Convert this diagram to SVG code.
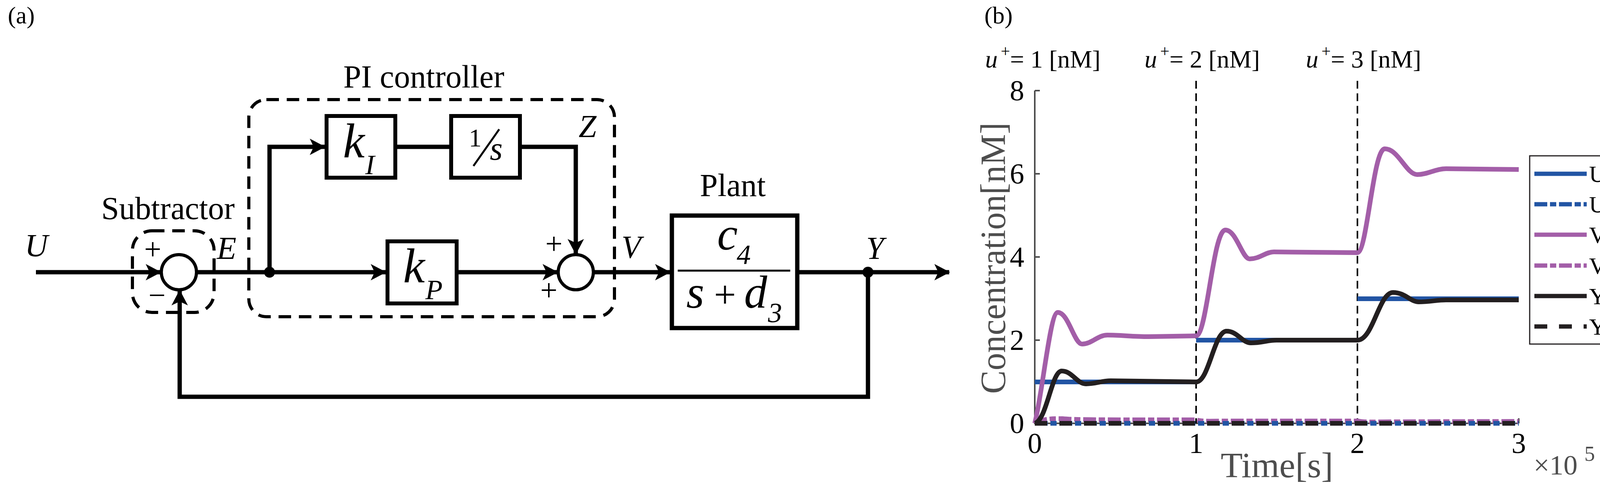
<svg xmlns="http://www.w3.org/2000/svg" width="4201" height="1288" viewBox="0 0 4201 1288">
<style>
text{font-family:"Liberation Serif","Times New Roman",serif;fill:#000}
.it{font-style:italic}
.blk{fill:#fff;stroke:#000;stroke-width:10}
.w{fill:none;stroke:#000;stroke-width:11}
.dash{fill:none;stroke:#000;stroke-width:8;stroke-dasharray:32 20}
.ax{stroke:#4d4d4d;stroke-width:4;fill:none}
.tk{font-size:74px;fill:#4d4d4d}
.cv{fill:none;stroke-width:12;stroke-linejoin:round}
.lab{font-size:82px}
</style>
<defs>
<marker id="ar" markerUnits="userSpaceOnUse" markerWidth="40" markerHeight="44" refX="38" refY="22" orient="auto"><path d="M0,1 L40,22 L0,43 L10,22Z" fill="#000"/></marker>
</defs>
<text x="20" y="60" font-size="62">(a)</text>
<text x="2520" y="60" font-size="62">(b)</text>

<g id="pi-box"><rect class="dash" x="637" y="255" width="936" height="556" rx="45"/><text x="1085" y="224" class="lab" text-anchor="middle">PI controller</text></g>
<g id="sub-box"><rect class="dash" x="339" y="591" width="209" height="209" rx="50"/><text x="430" y="561" class="lab" text-anchor="middle">Subtractor</text></g>

<g id="connectors">
<path class="w" d="M92,697 H411" marker-end="url(#ar)"/>
<path class="w" d="M504,697 H987" marker-end="url(#ar)"/>
<path class="w" d="M690,697 V376 H831" marker-end="url(#ar)"/>
<path class="w" d="M1017,376 H1150"/>
<path class="w" d="M1336,376 H1474 V650" marker-end="url(#ar)"/>
<path class="w" d="M1174,697 H1427" marker-end="url(#ar)"/>
<path class="w" d="M1521,697 H1715" marker-end="url(#ar)"/>
<path class="w" d="M2046,697 H2430" marker-end="url(#ar)"/>
<path class="w" d="M2222,697 V1016 H460 V744" marker-end="url(#ar)"/>
<circle cx="690" cy="697" r="14"/>
<circle cx="2222" cy="697" r="14"/>
</g>

<g id="subtractor"><circle cx="458" cy="697" r="45" fill="#fff" stroke="#000" stroke-width="8"/>
<text x="391" y="664" font-size="78" text-anchor="middle">+</text><text x="402" y="782" font-size="78" text-anchor="middle">−</text></g>
<g id="summer"><circle cx="1474" cy="697" r="45" fill="#fff" stroke="#000" stroke-width="8"/>
<text x="1418" y="650" font-size="78" text-anchor="middle">+</text><text x="1405" y="769" font-size="78" text-anchor="middle">+</text></g>

<g id="kI"><rect class="blk" x="836" y="297" width="176" height="158"/><text x="878" y="403" font-size="125" class="it">k</text><text x="935" y="446" font-size="72" class="it">I</text></g>
<g id="integ"><rect class="blk" x="1155" y="297" width="176" height="158"/><text x="1200" y="375" font-size="66">1</text><line x1="1212" y1="425" x2="1278" y2="331" stroke="#000" stroke-width="5"/><text x="1254" y="409" font-size="84" class="it">s</text></g>
<g id="kP"><rect class="blk" x="992" y="618" width="177" height="159"/><text x="1032" y="723" font-size="125" class="it">k</text><text x="1089" y="766" font-size="72" class="it">P</text></g>
<g id="plant"><rect x="1720" y="552" width="321" height="288" fill="#fff" stroke="#000" stroke-width="11"/><text x="1876" y="502" class="lab" text-anchor="middle">Plant</text>
<text x="1836" y="639" font-size="118" class="it">c</text><text x="1886" y="676" font-size="72" class="it">4</text>
<line x1="1735" y1="693" x2="2023" y2="693" stroke="#000" stroke-width="5"/>
<text x="1757" y="788" font-size="118" class="it">s</text><text x="1856" y="788" font-size="100" text-anchor="middle">+</text><text x="1905" y="788" font-size="118" class="it">d</text><text x="1966" y="825" font-size="72" class="it">3</text></g>
<g id="labels" font-size="82">
<text x="93" y="656" class="lab it" text-anchor="middle">U</text>
<text x="580" y="663" class="lab it" text-anchor="middle">E</text>
<text x="1504" y="351" class="lab it" text-anchor="middle">Z</text>
<text x="1616" y="660" class="lab it" text-anchor="middle">V</text>
<text x="2240" y="663" class="lab it" text-anchor="middle">Y</text>
</g>

<g id="plot">
<path class="ax" d="M2649,232 V1084 H3888 M3062,1084 v-13 M3475,1084 v-13 M3888,1084 v-13 M2649,871 h13 M2649,658 h13 M2649,445 h13 M2649,232 h13"/>
<g class="tk" text-anchor="middle"><text x="2649" y="1160">0</text><text x="3062" y="1160">1</text><text x="3475" y="1160">2</text><text x="3888" y="1160">3</text></g>
<g class="tk" text-anchor="end"><text x="2622" y="1109">0</text><text x="2622" y="896">2</text><text x="2622" y="683">4</text><text x="2622" y="470">6</text><text x="2622" y="257">8</text></g>
<text x="3269" y="1222" font-size="92" text-anchor="middle" style="fill:#4d4d4d">Time[s]</text>
<text x="3926" y="1215" font-size="72" style="fill:#4d4d4d">×10</text><text x="4056" y="1180" font-size="54" style="fill:#4d4d4d">5</text>
<text transform="translate(2573,661) rotate(-90)" font-size="90" text-anchor="middle" style="fill:#4d4d4d">Concentration[nM]</text>
<g font-size="64"><text x="2522" y="173"><tspan class="it">u</tspan><tspan font-size="42" dy="-28" dx="8">+</tspan><tspan dy="28">= 1 [nM]</tspan></text>
<text x="2930" y="173"><tspan class="it">u</tspan><tspan font-size="42" dy="-28" dx="8">+</tspan><tspan dy="28">= 2 [nM]</tspan></text>
<text x="3343" y="173"><tspan class="it">u</tspan><tspan font-size="42" dy="-28" dx="8">+</tspan><tspan dy="28">= 3 [nM]</tspan></text></g>
<path d="M3062,207 V1084 M3475,207 V1084" stroke="#000" stroke-width="4" stroke-dasharray="20 12"/>
<path class="cv" stroke="#a35ea8" stroke-dasharray="33 7 16 7" d="M2649,1084 C2670,1072 2690,1072 2720,1072 C2750,1075 2800,1075 3062,1075 C3080,1080 3100,1078 3140,1078 L3475,1078 C3495,1082 3520,1080 3560,1080 L3888,1079"/>
<path class="cv" stroke="#2255a4" stroke-dasharray="33 7 16 7" d="M2649,1084 H3888"/>
<path class="cv" stroke="#231f20" stroke-dasharray="32 31" d="M2649,1084 H3888"/>
<path class="cv" stroke="#2255a4" d="M2649,978 H3062 M3062,871 H3475 M3475,765 H3888"/>
<path class="cv" stroke="#a35ea8" d="M2649,1084 C2670,1000 2688,800 2708,800 C2735,800 2750,881 2770,881 C2795,881 2810,858 2835,858 C2870,858 2900,862 2940,862 L3062,860 C3090,860 3105,589 3137,589 C3165,589 3180,663 3199,663 C3225,663 3240,645 3261,645 L3475,647 C3500,647 3515,381 3545,381 C3580,381 3600,447 3628,447 C3655,447 3675,432 3702,432 L3888,434"/>
<path class="cv" stroke="#231f20" d="M2649,1084 C2680,1076 2692,950 2718,950 C2745,950 2757,983 2780,983 C2805,983 2820,975 2843,975 L3062,978 C3095,978 3108,848 3140,848 C3168,848 3180,878 3202,878 C3230,878 3245,871 3268,871 L3475,871 C3515,871 3530,749 3566,749 C3598,749 3610,773 3632,773 C3660,773 3678,768 3702,768 L3888,768"/>
</g>
<g id="legend">
<rect x="3916" y="399" width="256" height="482" fill="#fff" stroke="#231f20" stroke-width="3"/>
<g stroke-width="11"><path d="M3928,445 H4062" stroke="#2255a4"/><path d="M3928,523 H4062" stroke="#2255a4" stroke-dasharray="33 7 16 7"/><path d="M3928,601 H4062" stroke="#a35ea8"/><path d="M3928,680 H4062" stroke="#a35ea8" stroke-dasharray="33 7 16 7"/><path d="M3928,758 H4062" stroke="#231f20"/><path d="M3928,836 H4062" stroke="#231f20" stroke-dasharray="33 30 33 30 8 30"/></g>
<g font-size="60" fill="#231f20"><text x="4068" y="466">U+</text><text x="4068" y="544">U−</text><text x="4068" y="622">V+</text><text x="4068" y="701">V−</text><text x="4068" y="779">Y+</text><text x="4068" y="857">Y−</text></g>
</g>
</svg>
